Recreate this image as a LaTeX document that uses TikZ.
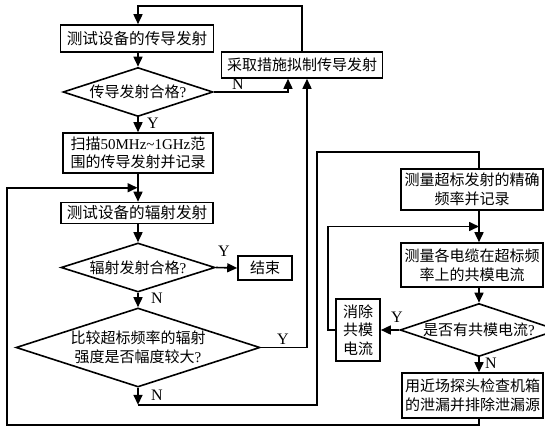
\documentclass[tikz,border=0pt]{standalone}
\usepackage{fontspec}
\setmainfont{Liberation Serif}
\newfontfamily\cjk{Noto Sans CJK SC}
\usetikzlibrary{shapes.geometric,arrows.meta,calc}

\begin{document}
\begin{tikzpicture}[x=0.5pt,y=-0.5pt, line width=0.8pt,
    arr/.style={-{Triangle[length=5pt,width=4.5pt]}},
    box/.style={draw, inner sep=0pt, align=center, font=\cjk\fontsize{7.5}{9.3}\selectfont},
    cond/.style={draw, diamond, aspect=3, inner sep=0pt, align=center, font=\cjk\fontsize{7.5}{9.3}\selectfont},
    lbl/.style={inner sep=0pt, font=\fontsize{8}{9}\selectfont}]
    \useasboundingbox (0,0) rectangle (545,433);
    % left column: conducted emission, then radiated emission
    \node[box, minimum width=76.5pt, minimum height=13.5pt, font=\cjk\fontsize{7.8}{9.3}\selectfont] (test1) at (137,38.5) {测试设备的传导发射};
    \node[box, minimum width=80.5pt, minimum height=13pt] (fix1) at (302,65) {采取措施拟制传导发射};
    \node[cond, minimum width=75pt, minimum height=24.5pt] (chk1) at (138,92) {传导发射合格{\rmfamily ?}};
    \node[box, minimum width=75pt, minimum height=20pt] (scan) at (138,153) {扫描{\rmfamily 50MHz\textasciitilde 1GHz}范\\围的传导发射并记录};
    \node[box, minimum width=76pt, minimum height=10.5pt, font=\cjk\fontsize{7.8}{9.3}\selectfont] (test2) at (137,213) {测试设备的辐射发射};
    \node[cond, minimum width=77pt, minimum height=24.5pt] (chk2) at (138,267.5) {辐射发射合格{\rmfamily ?}};
    \node[box, minimum width=27pt, minimum height=12pt] (stop) at (265,268) {结束};
    \node[cond, minimum width=122pt, minimum height=39.5pt] (cmp) at (138,347.5) {比较超标频率的辐射\\强度是否幅度较大{\rmfamily ?}};
    % right column: locate the source
    \node[box, minimum width=71pt, minimum height=20.5pt] (freq) at (472,189.5) {测量超标发射的精确\\频率并记录};
    \node[box, minimum width=71pt, minimum height=22pt] (cur) at (472,265) {测量各电缆在超标频\\率上的共模电流};
    \node[cond, minimum width=79pt, minimum height=26.5pt] (chk3) at (479,330) {是否有共模电流{\rmfamily ?}};
    \node[box, minimum width=22pt, minimum height=31pt] (cancel) at (358,330) {消除\\共模\\电流};
    \node[box, minimum width=70.5pt, minimum height=22.5pt] (probe) at (472.5,395.5) {用近场探头检查机箱\\的泄漏并排除泄漏源};
    % turning points
    \coordinate (join1) at ($(scan.south)!.5!(test2.north)$);
    \coordinate (join2) at ($(freq.south -| chk3.north)!.5!(cur.north -| chk3.north)$);
    \coordinate (turn1) at ($(cmp.south)+(0,17)$);
    \coordinate (up1) at (317,152);
    \coordinate (left1) at (7,425);
    % connectors
    \draw[arr] (fix1.north) -- ++(0,-45) -| (chk1.north |- test1.north);
    \draw[arr] (chk1.north |- test1.south) -- (chk1.north);
    \draw[arr] (chk1.east) -| ($(fix1.south)+(-14,0)$);
    \draw[arr] (chk1.south) -- (scan.north);
    \draw[arr] (scan.south) -- (test2.north -| scan.south);
    \draw[arr] (test2.south -| scan.south) -- (chk2.north);
    \draw[arr] (chk2.east) -- (stop.west);
    \draw[arr] (chk2.south) -- (cmp.north);
    \draw[arr] (cmp.east) -| ($(fix1.south)+(5,0)$);
    \draw[arr] (cmp.south) -- (turn1);
    \draw (turn1) -| (up1) -| (freq.north -| chk3.north);
    \draw[arr] (freq.south -| chk3.north) -- (cur.north -| chk3.north);
    \draw[arr] (cur.south -| chk3.north) -- (chk3.north);
    \draw[arr] (chk3.west) -- (cancel.east);
    \draw[arr] (cancel.west) -- ++(-7,0) |- (join2);
    \draw[arr] (chk3.south) -- (probe.north -| chk3.south);
    \draw[arr] (probe.south -| chk3.south) |- (left1) |- (join1);
    % branch labels
    \node[lbl] (n1) at (238,84) {N};
    \node[lbl] (y1) at (153,123) {Y};
    \node[lbl] (y2) at (224,251) {Y};
    \node[lbl] (n2) at (157,298) {N};
    \node[lbl] (y3) at (283,339) {Y};
    \node[lbl] (n3) at (157,395) {N};
    \node[lbl] (y4) at (397,317) {Y};
    \node[lbl] (n4) at (491,363) {N};
\end{tikzpicture}
\end{document}
